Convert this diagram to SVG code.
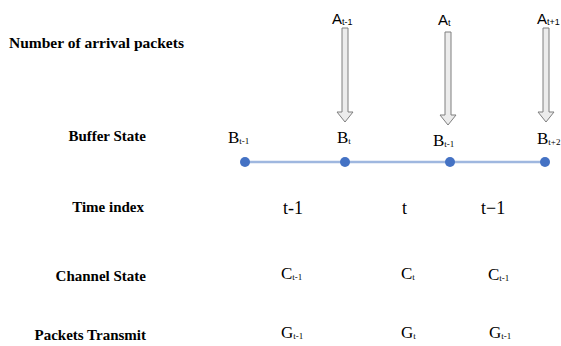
<svg xmlns="http://www.w3.org/2000/svg" width="561" height="346" viewBox="0 0 561 346">
<style>
.lbl{font-family:"Liberation Serif",serif;font-weight:bold;font-size:15px;fill:#000}
.r{text-anchor:end}
.a{font-family:"Liberation Sans",sans-serif;font-size:15px;fill:#000}
.v{font-family:"Liberation Serif",serif;font-size:17px;fill:#000}
.t{font-family:"Liberation Serif",serif;font-size:18px;fill:#000}
.sub{font-size:9px}
.arr{fill:#ececec;stroke:#7f7f7f;stroke-width:1}
</style>
<rect width="561" height="346" fill="#fff"/>
<g id="row-labels">
<text class="lbl" x="9" y="48" style="font-size:15.5px">Number of arrival packets</text>
<text class="lbl r" x="146" y="141">Buffer State</text>
<text class="lbl r" x="144" y="212">Time index</text>
<text class="lbl r" x="146" y="281">Channel State</text>
<text class="lbl r" x="146" y="340">Packets Transmit</text>
</g>
<g id="connectors">
<line x1="245" y1="162" x2="545" y2="162" stroke="#9fb7df" stroke-width="2.5"/>
<path class="arr" d="M342,28 h6 v84 h5 l-8,10 l-8,-10 h5 z"/>
<path class="arr" d="M445,32 h6 v83 h5 l-8,10 l-8,-10 h5 z"/>
<path class="arr" d="M543,28 h6 v84 h5 l-8,10 l-8,-10 h5 z"/>
</g>
<g id="timeline-dots" fill="#4472c4">
<circle cx="245" cy="162" r="5"/>
<circle cx="345" cy="162" r="5"/>
<circle cx="450" cy="162" r="5"/>
<circle cx="545" cy="162" r="5"/>
</g>
<g id="arrivals">
<text class="a" x="332" y="24">A<tspan class="sub" dy="1">t-1</tspan></text>
<text class="a" x="438" y="25">A<tspan class="sub" dy="1">t</tspan></text>
<text class="a" x="537" y="24">A<tspan class="sub" dy="1">t+1</tspan></text>
</g>
<g id="buffer">
<text class="v" x="228" y="143">B<tspan class="sub" dy="1">t-1</tspan></text>
<text class="v" x="337" y="143">B<tspan class="sub" dy="1">t</tspan></text>
<text class="v" x="433" y="146">B<tspan class="sub" dy="1">t-1</tspan></text>
<text class="v" x="537" y="144">B<tspan class="sub" dy="1">t+2</tspan></text>
</g>
<g id="time">
<text class="t" x="283" y="214">t-1</text>
<text class="t" x="402" y="214">t</text>
<text class="t" x="481" y="214">t−1</text>
</g>
<g id="channel">
<text class="v" x="281" y="279">C<tspan class="sub" dy="1">t-1</tspan></text>
<text class="v" x="401" y="279">C<tspan class="sub" dy="1">t</tspan></text>
<text class="v" x="488" y="280">C<tspan class="sub" dy="1">t-1</tspan></text>
</g>
<g id="transmit">
<text class="v" x="281" y="338">G<tspan class="sub" dy="1">t-1</tspan></text>
<text class="v" x="401" y="338">G<tspan class="sub" dy="1">t</tspan></text>
<text class="v" x="489" y="338">G<tspan class="sub" dy="1">t-1</tspan></text>
</g>
</svg>
